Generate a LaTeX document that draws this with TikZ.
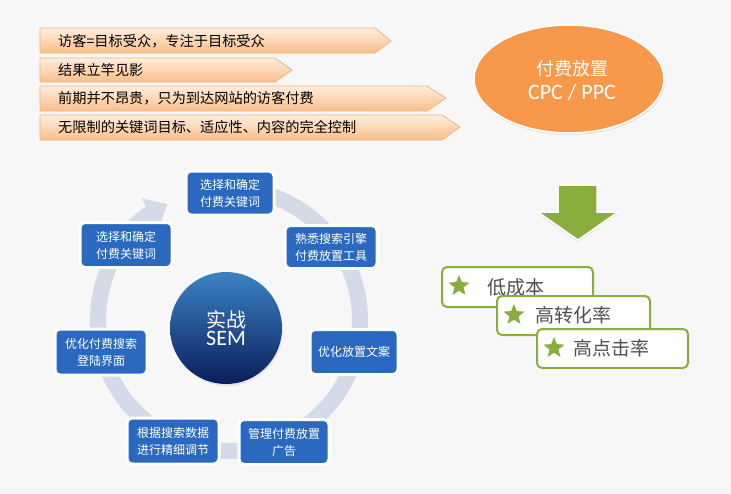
\documentclass[tikz,border=0pt]{standalone}
\usepackage{fontspec}
\setmainfont{Liberation Sans}
\newfontfamily\cjk{Noto Sans CJK SC}
\usetikzlibrary{shapes.geometric,arrows.meta,shadows}
\definecolor{bgc}{HTML}{F7F7F7}
\definecolor{bantop}{HTML}{FEEEE0}
\definecolor{banbot}{HTML}{F9BE88}
\definecolor{banline}{HTML}{F4B47C}
\definecolor{ellorange}{HTML}{F7984A}
\definecolor{boxblue}{HTML}{2A69BF}
\definecolor{ringc}{HTML}{D4DAE8}
\definecolor{circtop}{HTML}{3C83C4}
\definecolor{circbot}{HTML}{0A1E5C}
\definecolor{leaf}{HTML}{8AAE3E}
\definecolor{gtext}{HTML}{4F4F4F}
\tikzset{
  banner/.style={top color=bantop, bottom color=banbot, draw=banline, line width=0.8pt},
  bantext/.style={anchor=west, font=\cjk\fontsize{14.2}{16}\selectfont, text=black, inner sep=0pt},
  bluebox/.style={draw=white, line width=3pt, fill=boxblue, rounded corners=5pt,
    text=white, align=center, font=\cjk\fontsize{12}{17}\selectfont, inner sep=2pt,
    drop shadow={opacity=0.18, shadow xshift=1pt, shadow yshift=-1.5pt}},
  greenbox/.style={draw=leaf, line width=2pt, fill=white, rounded corners=5pt},
  gstar/.style={star, star points=5, star point ratio=2.3, fill=leaf, minimum size=22pt, inner sep=0pt},
  gtxt/.style={anchor=west, font=\cjk\fontsize{19}{21}\selectfont, text=gtext, inner sep=0pt}
}
\begin{document}
\begin{tikzpicture}[x=1pt,y=-1pt]
\fill[bgc] (0,0) rectangle (731,493);
\useasboundingbox (0,0) rectangle (731,493);

% banners
\draw[banner] (40,28) -- (375,28) -- (391,41) -- (375,53) -- (40,53) -- cycle;
\node[bantext] (t1) at (58,41) {访客=目标受众，专注于目标受众};
\draw[banner] (40,58) -- (275,58) -- (292,70) -- (275,82) -- (40,82) -- cycle;
\node[bantext] (t2) at (58,70) {结果立竿见影};
\draw[banner] (40,86) -- (427,86) -- (446,98) -- (427,111) -- (40,111) -- cycle;
\node[bantext] (t3) at (58,98) {前期并不昂贵，只为到达网站的访客付费};
\draw[banner] (40,115) -- (442,115) -- (460,127) -- (442,140) -- (40,140) -- cycle;
\node[bantext] (t4) at (58,127) {无限制的关键词目标、适应性、内容的完全控制};

% orange ellipse
\node[ellipse, fill=ellorange, draw=white, line width=1.5pt, minimum width=190pt, minimum height=108pt,
  drop shadow={opacity=0.15, shadow xshift=1pt, shadow yshift=-2pt}] (ell) at (569,79) {};
\node[text=white, font=\cjk\fontsize{18}{24}\selectfont, align=center] (ellt) at (572,80)
  {付费放置\\{\fontspec{Carlito}\fontsize{22}{24}\selectfont CPC / PPC}};

% green arrow
\draw[fill=leaf, draw=white, line width=1.5pt,
  drop shadow={opacity=0.15, shadow xshift=0pt, shadow yshift=-2pt}]
  (558,185) -- (597,185) -- (597,212) -- (618,212) -- (578,240) -- (538,212) -- (558,212) -- cycle;

% green boxes
\draw[greenbox] (442,267) rectangle (593,307);
\node[gstar] (s1) at (459,286) {};
\node[gtxt] (g1) at (487,287) {低成本};
\draw[greenbox] (497,296) rectangle (650,335);
\node[gstar] (s2) at (514,315) {};
\node[gtxt] (g2) at (535,315) {高转化率};
\draw[greenbox] (537,329) rectangle (688,368);
\node[gstar] (s3) at (554,348) {};
\node[gtxt] (g3) at (573,348) {高点击率};

% ring
\coordinate (rc) at (229,320);
\draw[ringc, line width=16pt, -{Triangle[width=34pt,length=20pt]}]
  ([shift={(-80:131)}]rc) arc[start angle=-80, end angle=242, radius=131];

% center circle
\node[circle, minimum size=112pt, top color=circtop, bottom color=circbot, inner sep=0pt,
  drop shadow={opacity=0.15, shadow xshift=1pt, shadow yshift=-2pt}] (core) at (226,328) {};
\node[text=white, font=\cjk\fontsize{20}{20}\selectfont, align=center] (coret) at (226,328)
  {实战\\[-2pt]{\fontspec{Carlito}\fontsize{22}{22}\selectfont SEM}};

% blue boxes
\node[bluebox, minimum width=88pt, minimum height=44pt] (b1) at (230,193) {选择和确定\\付费关键词};
\node[bluebox, minimum width=92pt, minimum height=45pt] (b2) at (126,245) {选择和确定\\付费关键词};
\node[bluebox, minimum width=92pt, minimum height=43pt] (b3) at (331,247) {熟悉搜索引擎\\付费放置工具};
\node[bluebox, minimum width=92pt, minimum height=46pt] (b4) at (101,352) {优化付费搜索\\登陆界面};
\node[bluebox, minimum width=88pt, minimum height=45pt] (b5) at (354,352) {优化放置文案};
\node[bluebox, minimum width=92pt, minimum height=46pt] (b6) at (173,441) {根据搜索数据\\进行精细调节};
\node[bluebox, minimum width=90pt, minimum height=45pt] (b7) at (284,442) {管理付费放置\\广告};
\end{tikzpicture}
\end{document}
